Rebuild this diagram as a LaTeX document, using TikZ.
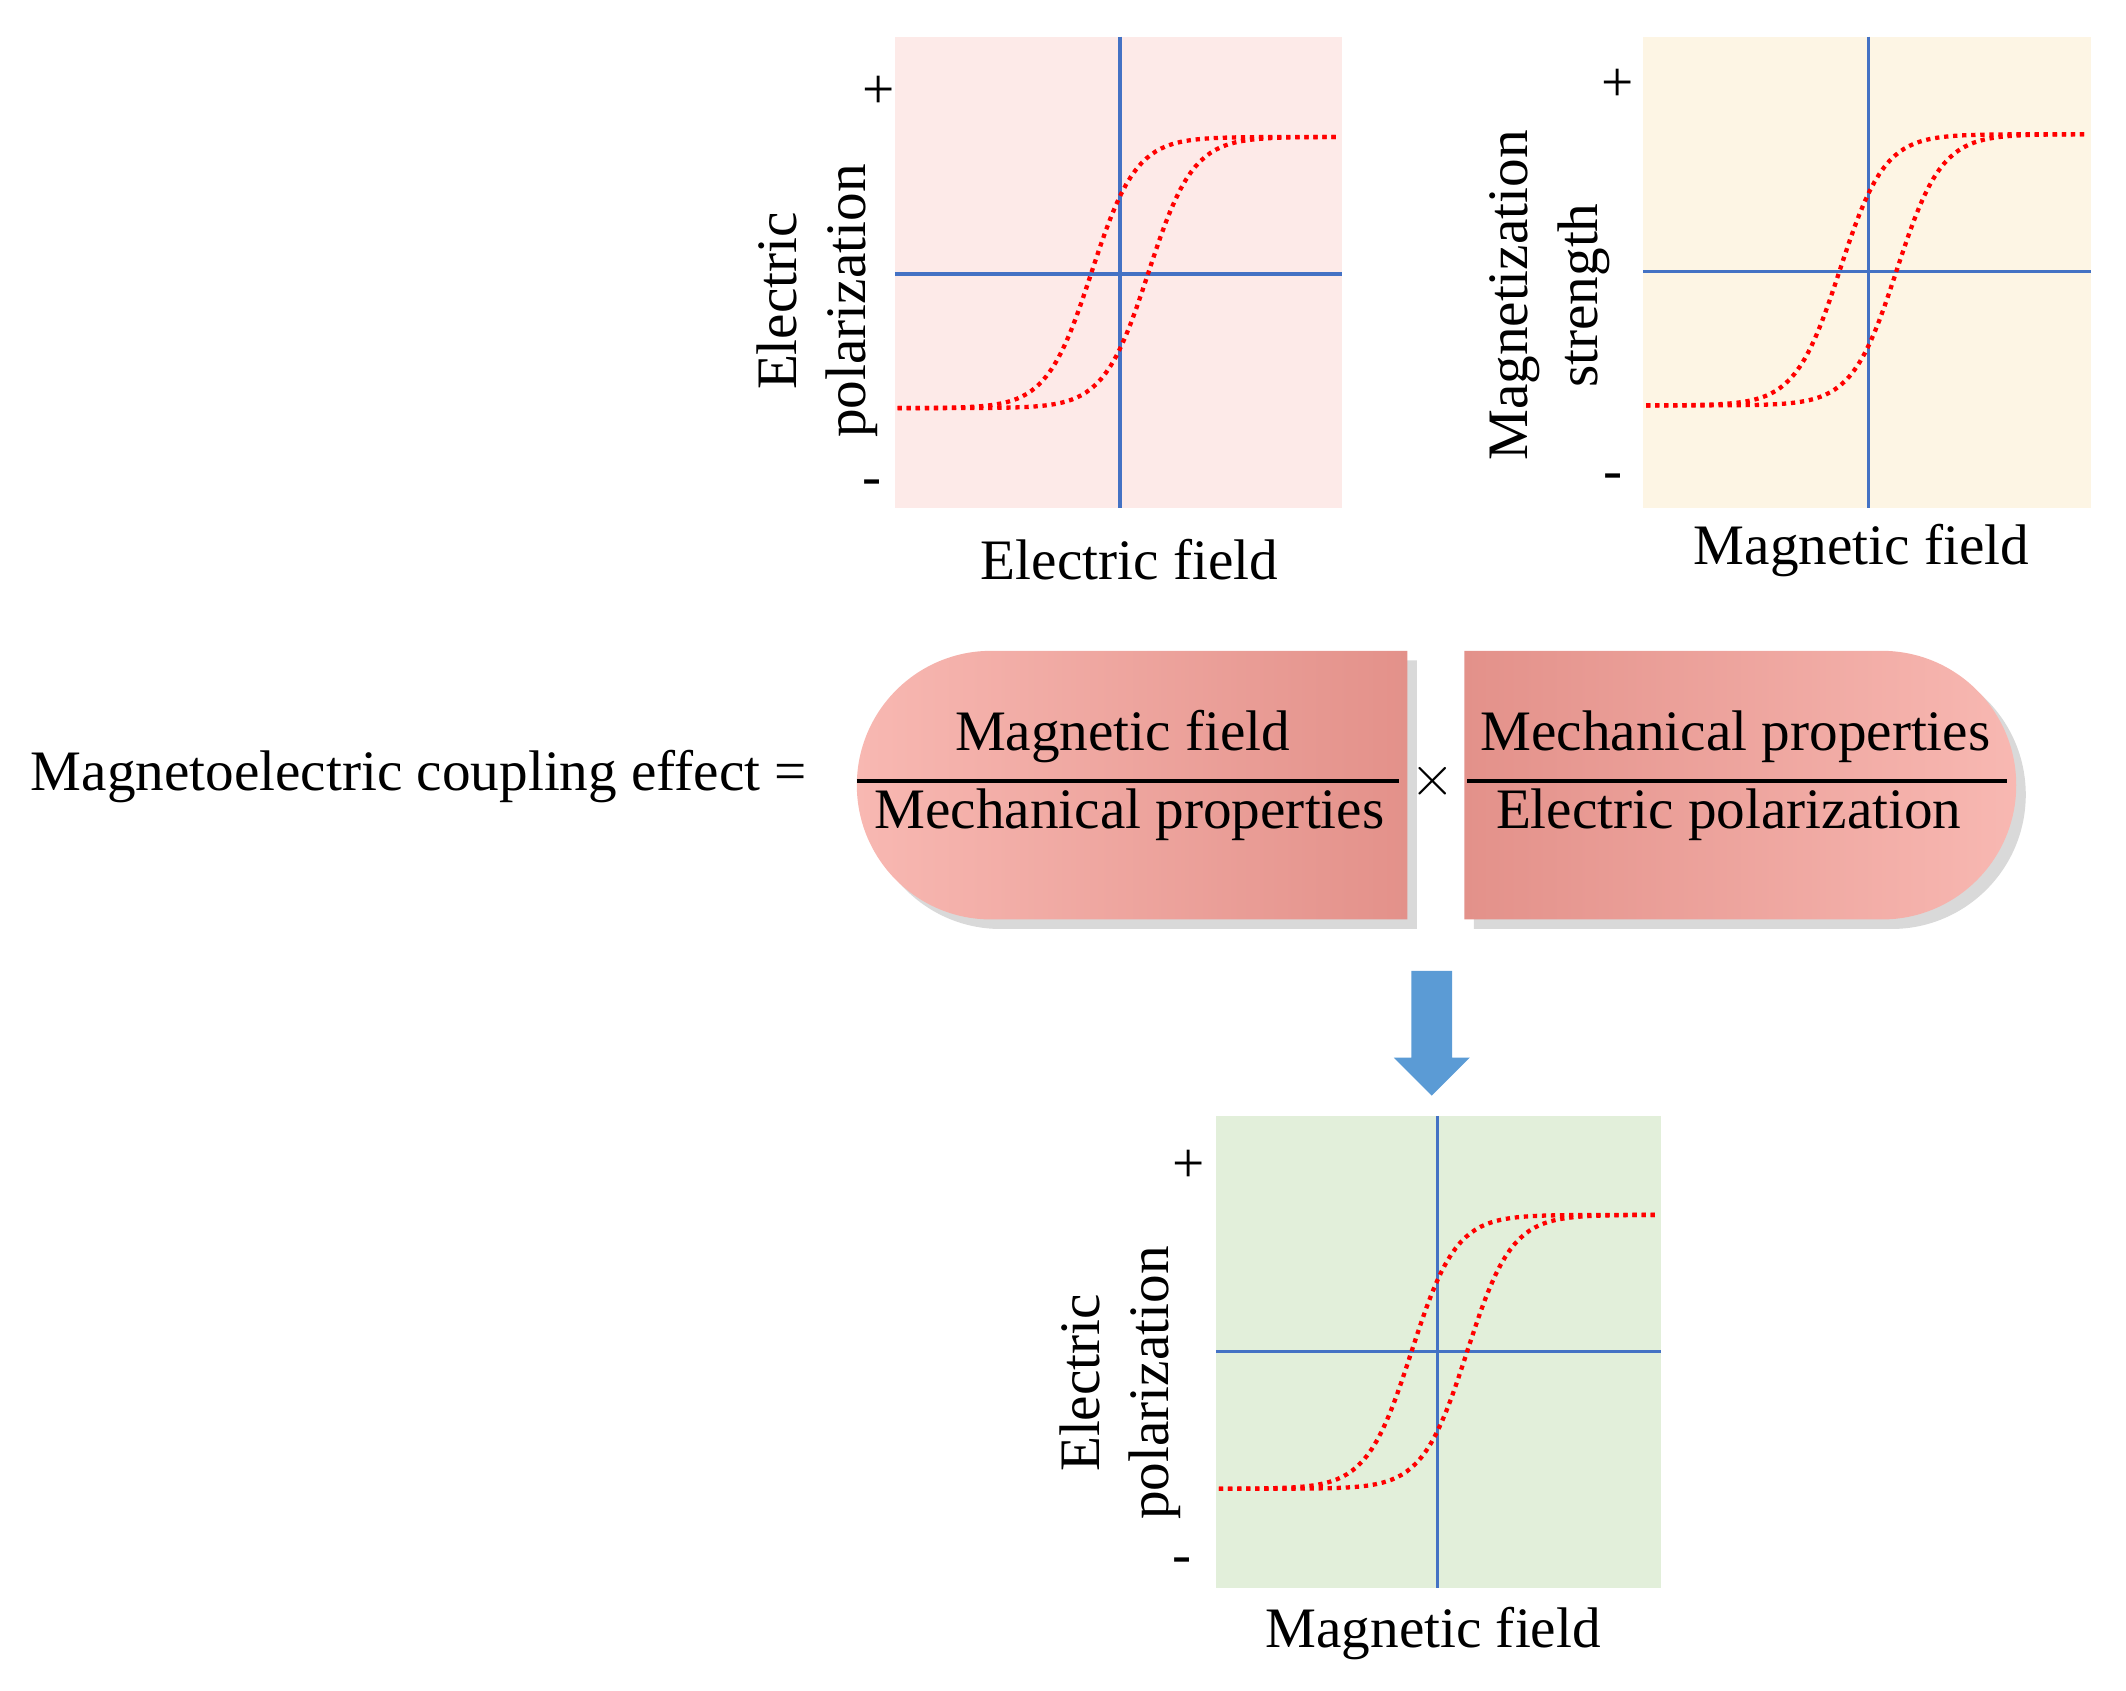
\documentclass[tikz,border=0pt]{standalone}
\usepackage{fontspec}
\setmainfont{Liberation Serif}
\usetikzlibrary{shadows}
\definecolor{axc}{HTML}{4472C4}
\definecolor{arc}{HTML}{5B9BD5}
\definecolor{pl}{HTML}{F8B8B2}
\definecolor{pd}{HTML}{E3918A}
\begin{document}
\begin{tikzpicture}[x=0.01cm,y=0.01cm,
  txt/.style={font=\fontsize{12}{14.5}\selectfont,inner sep=0pt},
  axis/.style={draw=axc,line width=0.7pt},
  curve/.style={red,densely dotted,line width=0.9pt},
  pill/.style={draw=none,drop shadow={shadow xshift=2pt,shadow yshift=-2pt,opacity=0.3}}]
\useasboundingbox (0,0) rectangle (1568,-1247);
% plot 1
\fill[fill={rgb,255:red,253;green,234;blue,232}] (660,-27) rectangle (990,-375);
\draw[axis] (826,-27) -- (826,-375);
\draw[axis] (660,-202) -- (990,-202);
\draw[curve] plot[domain=662:988,samples=90] (\x,{-201+100*tanh((\x-805)/33)});
\draw[curve] plot[domain=662:988,samples=90] (\x,{-201+100*tanh((\x-847)/33)});
\node[txt] (p1) at (648,-68) {+};
\node[txt] (m1) at (643,-360) {-};
\node[txt,rotate=90,align=center] (l1) at (603,-222) {Electric\\polarization};
\node[txt] (x1) at (833,-413) {Electric field};
% plot 2
\fill[fill={rgb,255:red,253;green,245;blue,228}] (1212,-27) rectangle (1542,-375);
\draw[axis] (1378,-27) -- (1378,-375);
\draw[axis] (1212,-200) -- (1542,-200);
\draw[curve] plot[domain=1214:1540,samples=90] (\x,{-199+100*tanh((\x-1357)/33)});
\draw[curve] plot[domain=1214:1540,samples=90] (\x,{-199+100*tanh((\x-1399)/33)});
\node[txt] (p2) at (1193,-63) {+};
\node[txt] (m2) at (1190,-355) {-};
\node[txt,rotate=90,align=center] (l2) at (1143,-218) {Magnetization\\strength};
\node[txt] (x2) at (1373,-406) {Magnetic field};
% equation
\node[txt,anchor=west] (eq) at (22,-573) {Magnetoelectric coupling effect =};
\shade[pill,left color=pl,right color=pd]
  (1038,-480) -- (731,-480) arc[start angle=90,end angle=270,radius=0.99cm] -- (1038,-678) -- cycle;
\shade[pill,left color=pd,right color=pl]
  (1080,-480) -- (1388,-480) arc[start angle=90,end angle=-90,radius=0.99cm] -- (1080,-678) -- cycle;
\draw[line width=0.8pt] (632,-576) -- (1032,-576);
\draw[line width=0.8pt] (1082,-576) -- (1480,-576);
\node[txt] (n1) at (828,-543) {Magnetic field};
\node[txt] (d1) at (833,-601) {Mechanical properties};
\node[txt] (times) at (1057,-576) {$\times$};
\node[txt] (n2) at (1280,-543) {Mechanical properties};
\node[txt] (d2) at (1275,-601) {Electric polarization};
% arrow
\fill[arc] (1041,-716) -- (1071,-716) -- (1071,-780) -- (1084,-780)
  -- (1056,-808) -- (1028,-780) -- (1041,-780) -- cycle;
% plot 3
\fill[fill={rgb,255:red,226;green,239;blue,218}] (897,-823) rectangle (1225,-1171);
\draw[axis] (1060,-823) -- (1060,-1171);
\draw[axis] (897,-997) -- (1225,-997);
\draw[curve] plot[domain=899:1223,samples=90] (\x,{-997+101*tanh((\x-1041)/33)});
\draw[curve] plot[domain=899:1223,samples=90] (\x,{-997+101*tanh((\x-1082)/33)});
\node[txt] (p3) at (877,-860) {+};
\node[txt] (m3) at (872,-1155) {-};
\node[txt,rotate=90,align=center] (l3) at (826,-1020) {Electric\\polarization};
\node[txt] (x3) at (1057,-1205) {Magnetic field};
\end{tikzpicture}
\end{document}
